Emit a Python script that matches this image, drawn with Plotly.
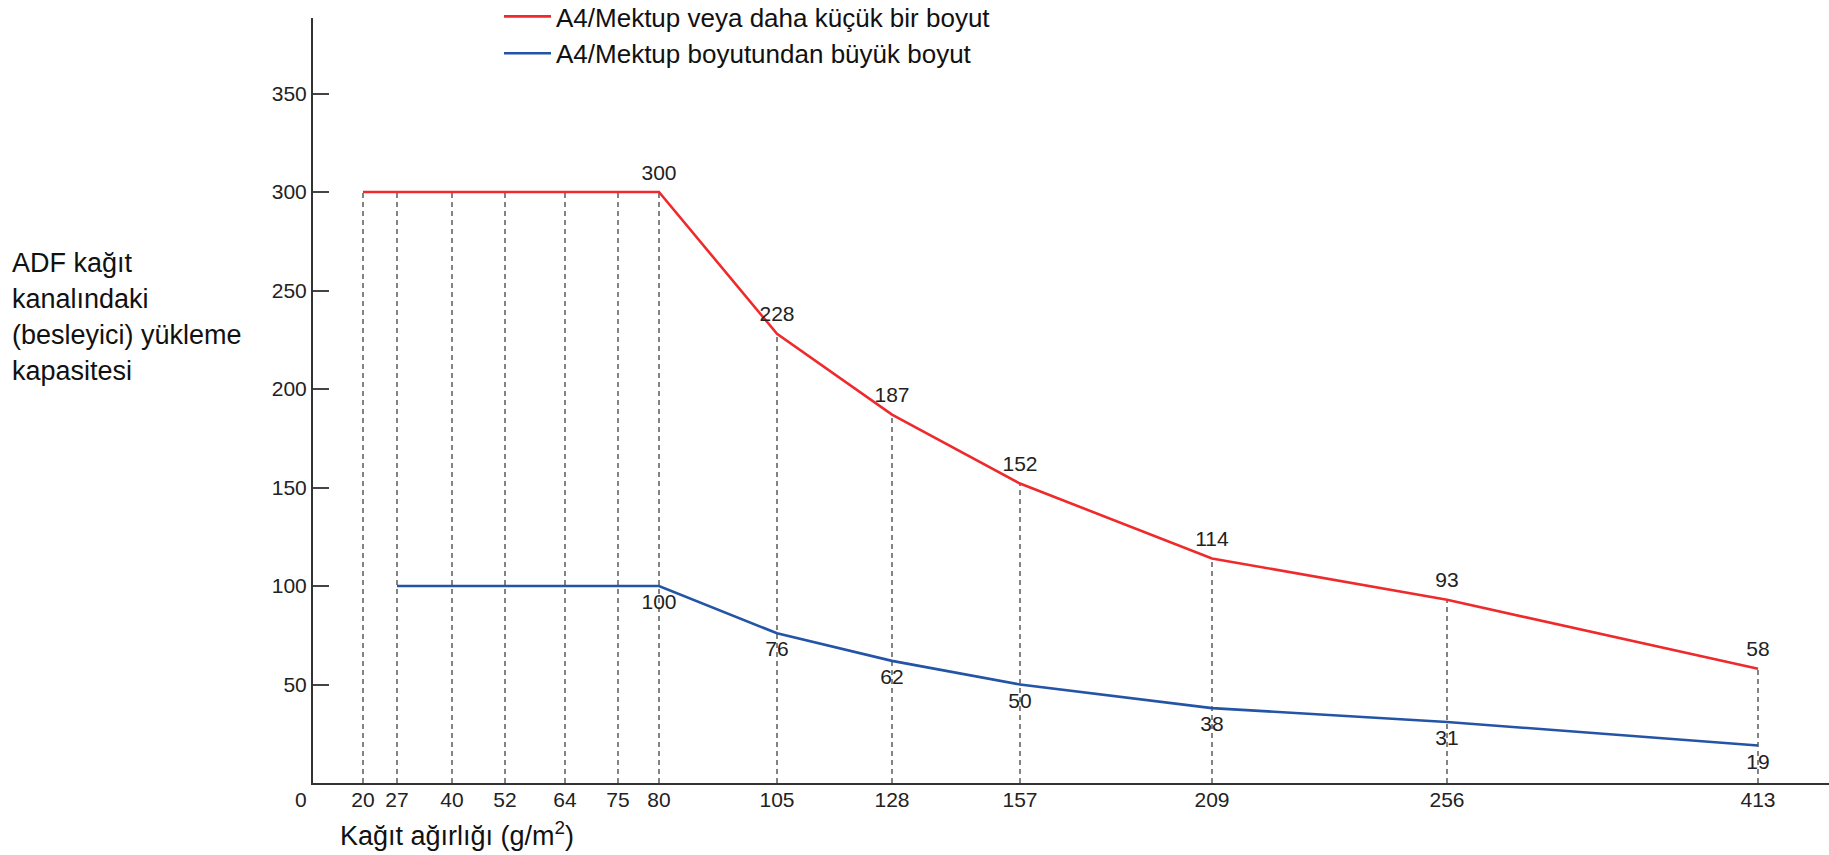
import numpy as np
import plotly.graph_objects as go

# ---------------- data ----------------
weights = [20, 27, 40, 52, 64, 75, 80, 105, 128, 157, 209, 256, 413]
small_weights = [20, 27, 40, 52, 64, 75, 80, 105, 128, 157, 209, 256, 413]
small_capacity = [300, 300, 300, 300, 300, 300, 300, 228, 187, 152, 114, 93, 58]
large_weights = [27, 40, 52, 64, 75, 80, 105, 128, 157, 209, 256, 413]
large_capacity = [100, 100, 100, 100, 100, 100, 76, 62, 50, 38, 31, 19]
y_ticks = [50, 100, 150, 200, 250, 300, 350]
label_from_weight = 80

small_name = "A4/Mektup veya daha küçük bir boyut"
large_name = "A4/Mektup boyutundan büyük boyut"
x_title = "Kağıt ağırlığı (g/m<sup>2</sup>)"
y_title_lines = ["ADF kağıt", "kanalındaki", "(besleyici) yükleme", "kapasitesi"]

# ---------------- layout / scale ----------------
W, H = 1829, 855
ML, MR, MT, MB = 313, 0, 18, 72
PLOT_W = W - ML - MR
PLOT_H = H - MT - MB
Y_MAX = PLOT_H / 1.97
# uneven (hand-spaced) horizontal slots for the weight axis, in plot pixels
AXIS_SLOT_PX = [50, 84, 139, 192, 252, 305, 346, 464, 579, 707, 899, 1134, 1445]


def xpos(ws):
    return list(np.interp(ws, weights, AXIS_SLOT_PX))


def py(pix):  # page pixel (from top) -> paper y
    return (H - MB - pix) / PLOT_H


def px(pix):  # page pixel (from left) -> paper x
    return (pix - ML) / PLOT_W


RED = "#EE2A2C"
BLUE = "#2454A6"
TXT = "#222222"
FONT = "Liberation Sans, Arial, sans-serif"
TICK_SIZE = 21
BIG = 27

fig = go.Figure()

# dashed guide lines from axis up to the small-size curve
gx, gy = [], []
for w, v in zip(small_weights, small_capacity):
    p = xpos([w])[0]
    gx += [p, p, None]
    gy += [0, v, None]
fig.add_trace(go.Scatter(x=gx, y=gy, mode="lines", showlegend=False, hoverinfo="skip",
                         line=dict(color="#333333", width=1.2, dash="5px,4px")))

fig.add_trace(go.Scatter(x=xpos(small_weights), y=small_capacity, mode="lines", name=small_name,
                         line=dict(color=RED, width=2.6)))
fig.add_trace(go.Scatter(x=xpos(large_weights), y=large_capacity, mode="lines", name=large_name,
                         line=dict(color=BLUE, width=2.6)))

# value labels (only from 80 g/m2 on)
sl = [(w, v) for w, v in zip(small_weights, small_capacity) if w >= label_from_weight]
ll = [(w, v) for w, v in zip(large_weights, large_capacity) if w >= label_from_weight]
fig.add_trace(go.Scatter(x=xpos([w for w, _ in sl]), y=[v for _, v in sl], mode="markers+text",
                         text=[str(v) for _, v in sl], textposition="top center",
                         marker=dict(size=10, opacity=0), showlegend=False, hoverinfo="skip",
                         textfont=dict(size=TICK_SIZE, color=TXT, family=FONT), cliponaxis=False))
fig.add_trace(go.Scatter(x=xpos([w for w, _ in ll]), y=[v for _, v in ll], mode="markers+text",
                         text=[str(v) for _, v in ll], textposition="bottom center",
                         marker=dict(size=10, opacity=0), showlegend=False, hoverinfo="skip",
                         textfont=dict(size=TICK_SIZE, color=TXT, family=FONT), cliponaxis=False))

annotations = []
for i, line in enumerate(y_title_lines):
    annotations.append(dict(text=line, xref="paper", yref="paper", x=px(10), y=py(263 + 36 * i),
                            xanchor="left", yanchor="middle", align="left", showarrow=False,
                            font=dict(size=BIG, color="#111111", family=FONT)))
annotations.append(dict(text=x_title, xref="paper", yref="paper", x=px(338), y=py(834),
                        xanchor="left", yanchor="middle", align="left", showarrow=False,
                        font=dict(size=BIG, color="#111111", family=FONT)))
annotations.append(dict(text="0", xref="paper", yref="paper", x=px(301), y=py(800),
                        xanchor="center", yanchor="middle", showarrow=False,
                        font=dict(size=TICK_SIZE, color=TXT, family=FONT)))

fig.update_layout(
    width=W, height=H, autosize=False,
    margin=dict(l=ML, r=MR, t=MT, b=MB, pad=0, autoexpand=False),
    paper_bgcolor="white", plot_bgcolor="white",
    font=dict(family=FONT, color=TXT, size=TICK_SIZE),
    legend=dict(x=px(499), y=py(-7), xanchor="left", yanchor="top", itemwidth=47,
                font=dict(size=26, color="#111111", family=FONT), bgcolor="rgba(0,0,0,0)",
                tracegroupgap=0),
    xaxis=dict(range=[0, PLOT_W], tickvals=xpos(weights), ticktext=[str(w) for w in weights],
               showgrid=False, zeroline=False, showline=True, linecolor="#333333", linewidth=2,
               ticks="", ticklabelstandoff=-3, tickfont=dict(size=TICK_SIZE, color=TXT, family=FONT)),
    yaxis=dict(range=[0, Y_MAX], tickvals=y_ticks, showgrid=False, zeroline=False,
               showline=True, linecolor="#333333", linewidth=2,
               ticks="inside", ticklen=16, tickwidth=1.5, tickcolor="#444444",
               tickfont=dict(size=TICK_SIZE, color=TXT, family=FONT)),
    annotations=annotations,
)

fig.write_html("out.html", config={"displayModeBar": False},
               post_script="document.body.style.margin='0';")
